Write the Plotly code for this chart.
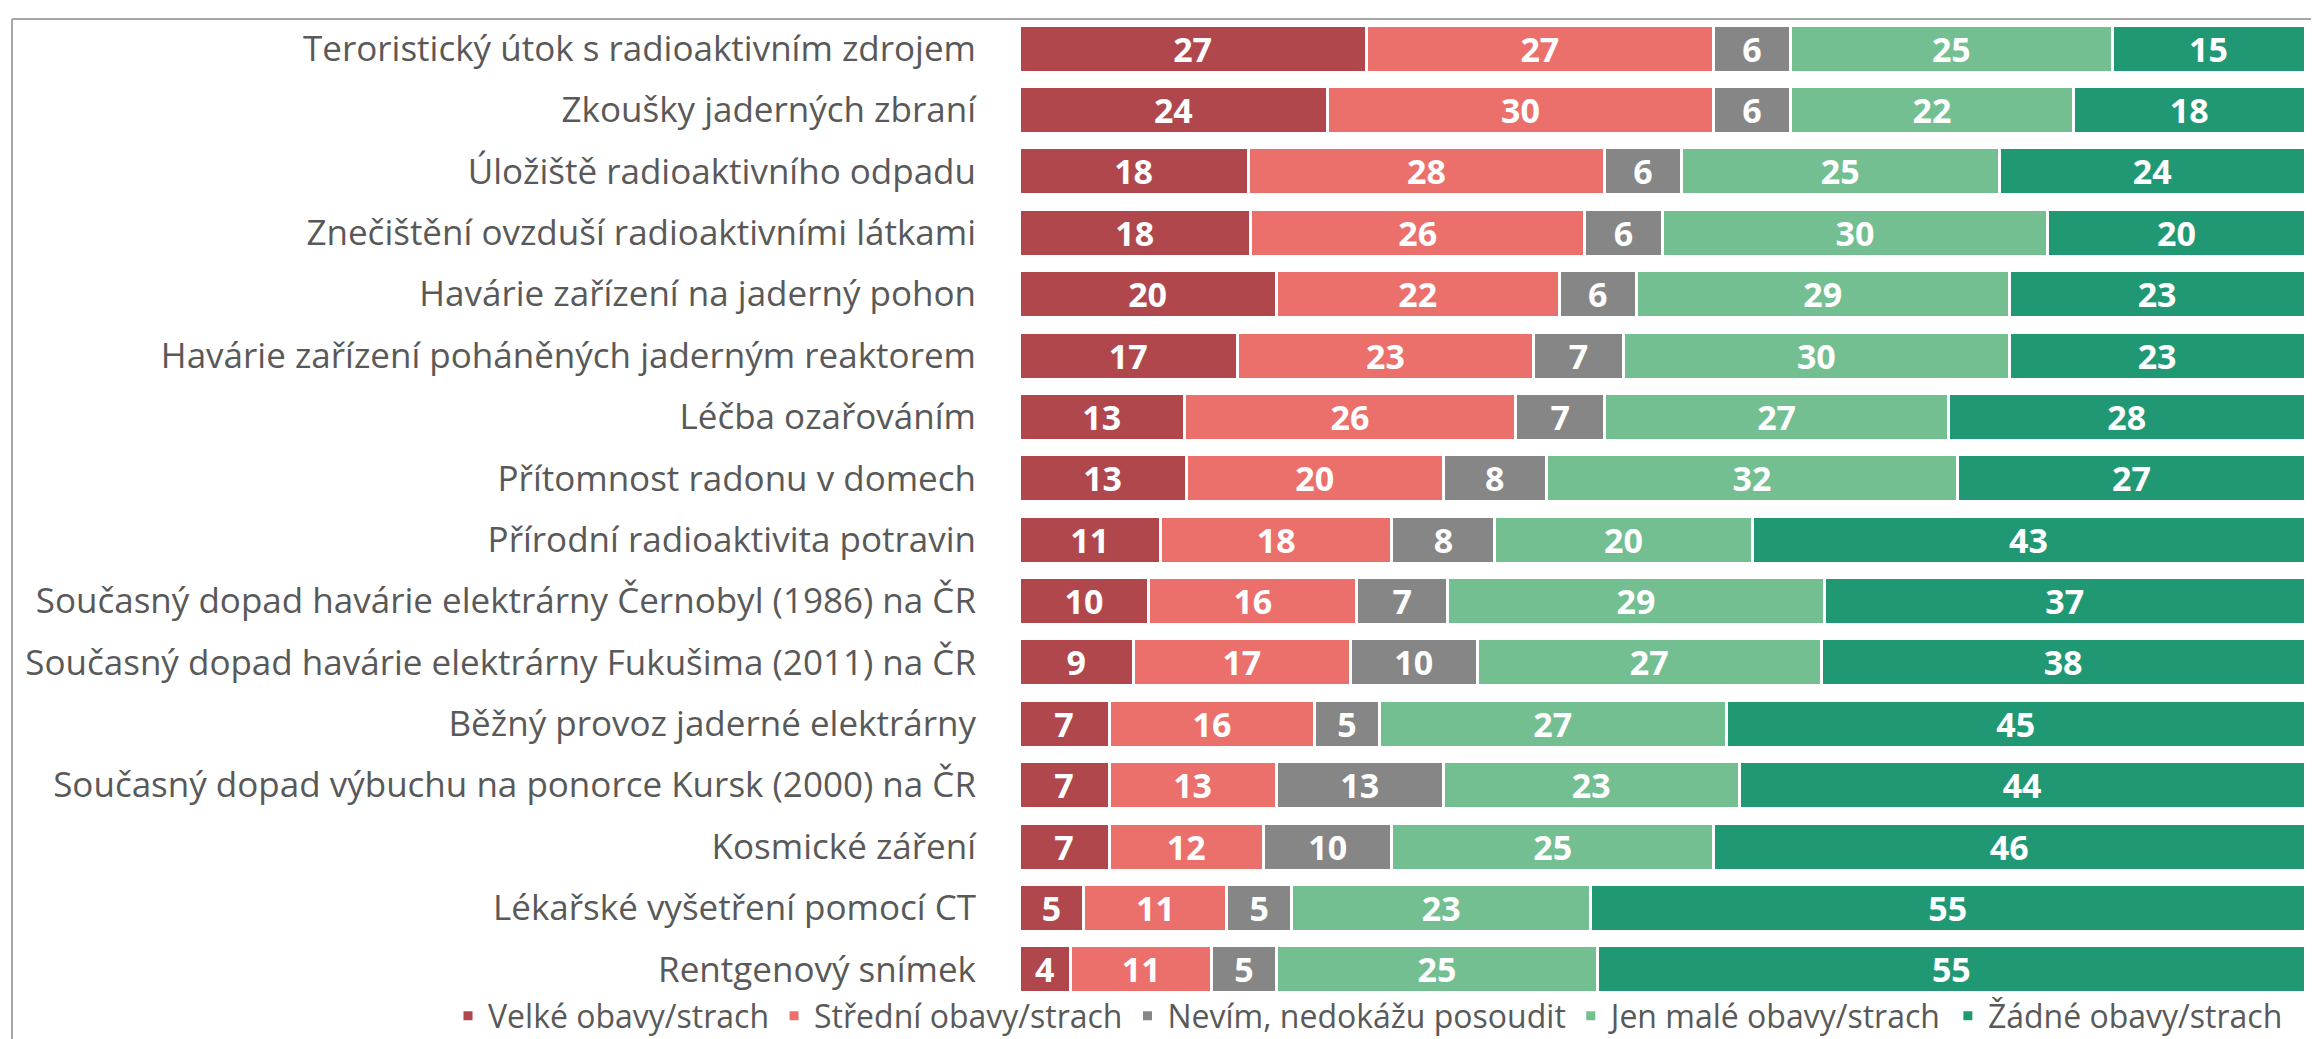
import plotly.graph_objects as go

categories = [
    "Teroristický útok s radioaktivním zdrojem",
    "Zkoušky jaderných zbraní",
    "Úložiště radioaktivního odpadu",
    "Znečištění ovzduší radioaktivními látkami",
    "Havárie zařízení na jaderný pohon",
    "Havárie zařízení poháněných jaderným reaktorem",
    "Léčba ozařováním",
    "Přítomnost radonu v domech",
    "Přírodní radioaktivita potravin",
    "Současný dopad havárie elektrárny Černobyl (1986) na ČR",
    "Současný dopad havárie elektrárny Fukušima (2011) na ČR",
    "Běžný provoz jaderné elektrárny",
    "Současný dopad výbuchu na ponorce Kursk (2000) na ČR",
    "Kosmické záření",
    "Lékařské vyšetření pomocí CT",
    "Rentgenový snímek",
]

velke = [27, 24, 18, 18, 20, 17, 13, 13, 11, 10, 9, 7, 7, 7, 5, 4]
stredni = [27, 30, 28, 26, 22, 23, 26, 20, 18, 16, 17, 16, 13, 12, 11, 11]
nevim = [6, 6, 6, 6, 6, 7, 7, 8, 8, 7, 10, 5, 13, 10, 5, 5]
male = [25, 22, 25, 30, 29, 30, 27, 32, 20, 29, 27, 27, 23, 25, 23, 25]
zadne = [15, 18, 24, 20, 23, 23, 28, 27, 43, 37, 38, 45, 44, 46, 55, 55]

series_names = [
    "Velké obavy/strach",
    "Střední obavy/strach",
    "Nevím, nedokážu posoudit",
    "Jen malé obavy/strach",
    "Žádné obavy/strach",
]
series_values = [velke, stredni, nevim, male, zadne]
series_colors = ["#B0474D", "#EB706C", "#868686", "#73BF91", "#219874"]

W, H = 2319, 1039
ML, MR, MT, MB = 1011, 22, 10, 47

fig = go.Figure()
for name, vals, col in zip(series_names, series_values, series_colors):
    fig.add_trace(go.Bar(
        y=categories,
        x=vals,
        name=name,
        orientation="h",
        marker=dict(color=col, line=dict(color="white", width=3)),
        text=[str(v) for v in vals],
        textposition="inside",
        insidetextanchor="middle",
        textangle=0,
        textfont=dict(family="Open Sans", size=34, color="white", weight="bold"),
        constraintext="none",
        hoverinfo="name+x",
    ))


def px_x(p):
    return (p - ML) / (W - ML - MR)


def px_y(p):
    return 1 - (p - MT) / (H - MT - MB)


fig.update_layout(
    barmode="stack",
    barnorm="percent",
    bargap=0.235,
    width=W,
    height=H,
    margin=dict(l=ML, r=MR, t=MT, b=MB, autoexpand=False),
    paper_bgcolor="white",
    plot_bgcolor="white",
    font=dict(family="Open Sans", color="#595959", size=35),
    xaxis=dict(visible=False, range=[0, 100], fixedrange=True),
    yaxis=dict(
        autorange="reversed",
        showgrid=False,
        ticks="",
        showline=False,
        ticklabelstandoff=42,
        tickfont=dict(family="Open Sans", size=35, color="#595959"),
    ),
    legend=dict(
        orientation="h",
        x=px_x(440),
        xanchor="left",
        y=px_y(1008),
        yanchor="middle",
        font=dict(family="Open Sans", size=32, color="#595959"),
        itemwidth=30,
        traceorder="normal",
        bgcolor="rgba(0,0,0,0)",
    ),
    showlegend=True,
    shapes=[
        dict(type="line", xref="paper", yref="paper",
             x0=px_x(4), x1=px_x(W + 5), y0=px_y(11), y1=px_y(11),
             line=dict(color="#A6A6A6", width=2)),
        dict(type="line", xref="paper", yref="paper",
             x0=px_x(4), x1=px_x(4), y0=px_y(11), y1=px_y(H + 5),
             line=dict(color="#A6A6A6", width=2)),
    ],
)

fig.write_html("out.html")
